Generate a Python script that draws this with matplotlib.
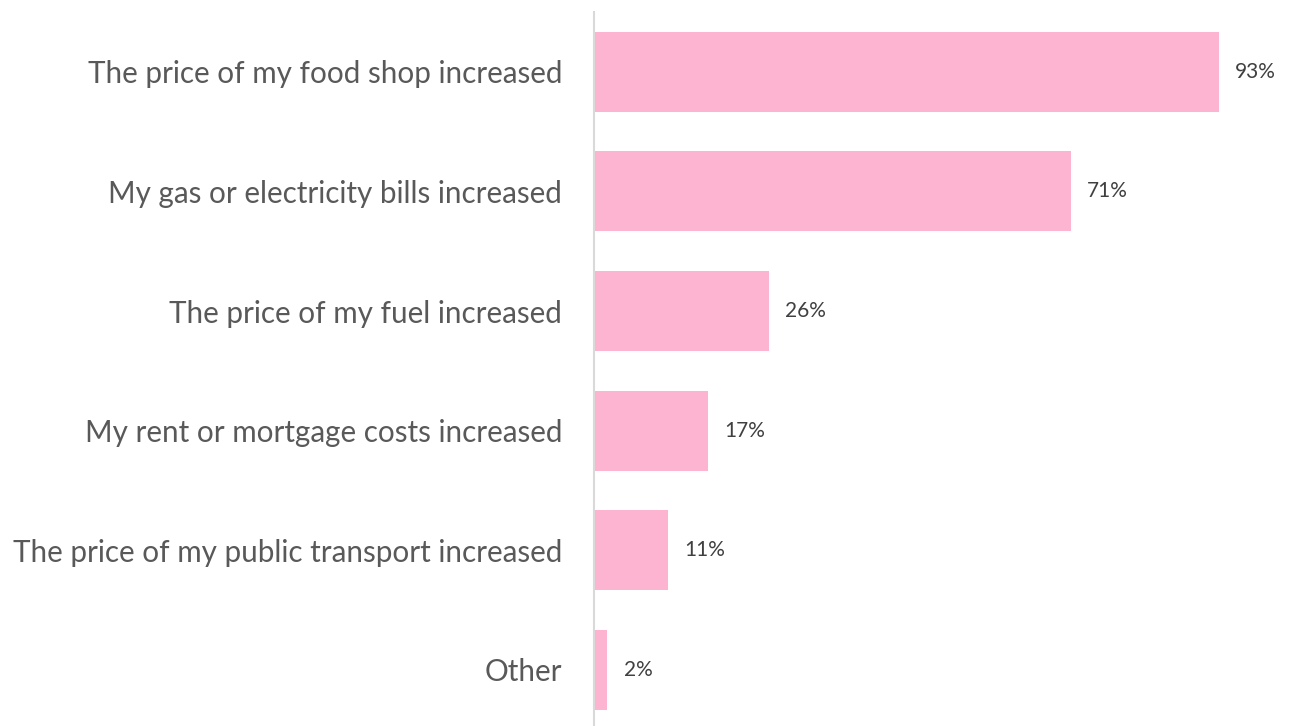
import matplotlib.pyplot as plt

# Datos del gráfico
categorias = [
    "The price of my food shop increased",
    "My gas or electricity bills increased",
    "The price of my fuel increased",
    "My rent or mortgage costs increased",
    "The price of my public transport increased",
    "Other",
]
valores = [93, 71, 26, 17, 11, 2]
etiquetas = ["93%", "71%", "26%", "17%", "11%", "2%"]

color_barra = "#FDB4D0"
color_texto = "#595959"

fig = plt.figure(figsize=(12.94, 7.26), dpi=100)
ax = fig.add_axes([594 / 1294, -0.005, 700 / 1294, 0.9885])

y = list(range(len(categorias)))
ax.barh(y, valores, height=0.67, color=color_barra)
ax.set_ylim(len(categorias) - 0.5, -0.5)
ax.set_xlim(0, 104.2)

ax.set_yticks(y)
ax.set_yticklabels(categorias, fontsize=21.3, color=color_texto, family="Lato")
ax.tick_params(axis="y", length=0, pad=23)
ax.set_xticks([])

for i, (v, t) in enumerate(zip(valores, etiquetas)):
    ax.text(v + 2.4, i, t, va="center", ha="left", fontsize=15,
            color="#404040", family="Lato")

for lado in ["top", "right", "bottom"]:
    ax.spines[lado].set_visible(False)
ax.spines["left"].set_color("#D9D9D9")
ax.spines["left"].set_linewidth(1.5)

fig.savefig("out.png", dpi=100)
